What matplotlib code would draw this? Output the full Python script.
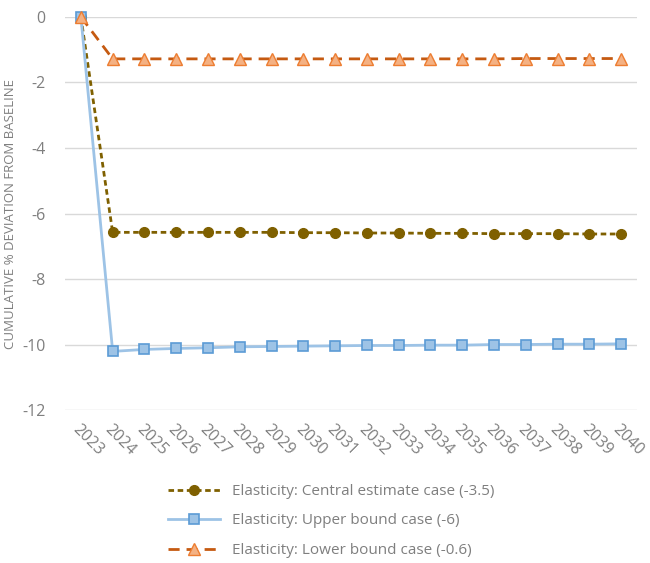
import matplotlib
matplotlib.use("Agg")
import matplotlib.pyplot as plt
from matplotlib.ticker import FuncFormatter

years = [str(y) for y in range(2023, 2041)]
central = [0, -6.57, -6.57, -6.57, -6.57, -6.57, -6.57, -6.58, -6.58, -6.59,
           -6.59, -6.60, -6.60, -6.61, -6.61, -6.61, -6.62, -6.62]
upper = [0, -10.20, -10.14, -10.11, -10.09, -10.06, -10.05, -10.04, -10.03, -10.02,
         -10.02, -10.01, -10.01, -9.99, -9.99, -9.98, -9.98, -9.97]
lower = [0, -1.28, -1.28, -1.28, -1.28, -1.28, -1.28, -1.28, -1.28, -1.28,
         -1.28, -1.28, -1.28, -1.28, -1.27, -1.27, -1.27, -1.27]
labels = ["Elasticity: Central estimate case (-3.5)",
          "Elasticity: Upper bound case (-6)",
          "Elasticity: Lower bound case (-0.6)"]
yticks = [0, -2, -4, -6, -8, -10, -12]

plt.rcParams['font.family'] = ['Open Sans', 'DejaVu Sans']
gray = '#7F7F7F'

fig = plt.figure(figsize=(6.5, 5.63), dpi=100)
ax = fig.add_axes([0.1, 0.271, 0.88, 0.699])
x = list(range(len(years)))

l1, = ax.plot(x, central, color='#7F6000', lw=2, ls=(0, (2, 1.3)), marker='o',
              ms=7, mfc='#7F6000', mec='#7F6000', clip_on=False, zorder=3)
l2, = ax.plot(x, upper, color='#9DC3E6', lw=2, ls='-', marker='s',
              ms=7.5, mfc='#9DC3E6', mec='#5B9BD5', mew=1.2, clip_on=False, zorder=3)
l3, = ax.plot(x, lower, color='#C55A11', lw=2, ls=(0, (4, 2.5)), marker='^',
              ms=8, mfc='#F4B183', mec='#ED7D31', mew=1, clip_on=False, zorder=4)

ax.set_xlim(-0.5, len(years) - 0.5)
ax.set_ylim(-12, 0)
ax.set_yticks(yticks)
ax.yaxis.set_major_formatter(FuncFormatter(lambda v, p: f"{int(v)}"))
ax.set_xticks(x)
ax.set_xticklabels(years, rotation=-45, ha='left', va='top', rotation_mode='anchor')
ax.grid(axis='y', color='#D9D9D9', lw=1)
ax.set_axisbelow(True)
for s in ax.spines.values():
    s.set_visible(False)
ax.tick_params(axis='both', length=0, colors=gray, labelsize=11.5)
ax.tick_params(axis='x', pad=8)
ax.tick_params(axis='y', pad=14)
ax.set_ylabel("CUMULATIVE % DEVIATION FROM BASELINE", color=gray, fontsize=9.5, labelpad=4)

fig.legend([l1, l2, l3], labels, loc='upper center', bbox_to_anchor=(0.51, 0.165),
           frameon=False, fontsize=11, labelcolor=gray, handlelength=3.4,
           labelspacing=0.95, ncol=1)

fig.savefig("out.png", dpi=100)
